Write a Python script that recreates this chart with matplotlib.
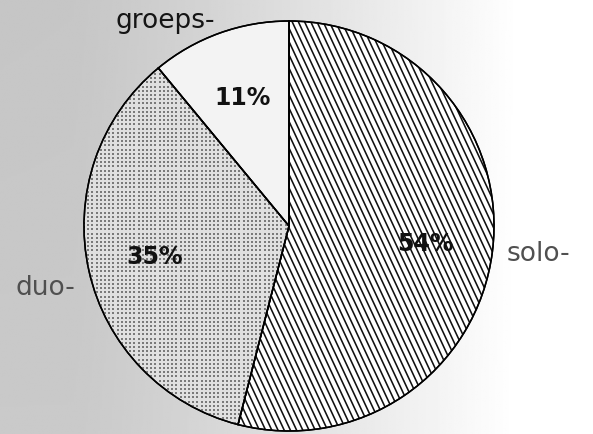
import numpy as np
import matplotlib.pyplot as plt
from matplotlib.patches import Wedge
from matplotlib.collections import LineCollection

# share of performances per ensemble type
labels = ['solo-', 'duo-', 'groeps-']
shares = [54, 35, 11]
label_colors = ['#505050', '#505050', '#151515']

fig = plt.figure(figsize=(5.93, 4.35), dpi=100)
ax = fig.add_axes([0, 0, 1, 1])

# scanned paper look: grey on the left, almost white on the right
gx = np.linspace(0, 1, 300)
gy = np.linspace(0, 1, 200)
GX, GY = np.meshgrid(gx, gy)
paper = 0.79 + 0.21 * np.clip((GX - 0.12) / 0.75, 0, 1) ** 1.2 - 0.015 * GY * (1 - GX)
ax.imshow(paper, extent=[0, 593, 0, 435], cmap='gray', vmin=0, vmax=1,
          aspect='auto', origin='lower', zorder=0)

cx, cy, r = 289, 208, 205
wedges, texts, autotexts = ax.pie(
    shares, labels=labels, center=(cx, cy), radius=r,
    startangle=90, counterclock=False, frame=True,
    colors=['white', '#e0e0e0', '#f3f3f3'],
    autopct=lambda p: '%d%%' % round(p), pctdistance=0.67, labeldistance=1.07,
    wedgeprops=dict(edgecolor='black', linewidth=1.1),
)
for w in wedges:
    w.set_zorder(1)

# steep diagonal hatching in the solo slice
ang = np.deg2rad(65)
x0s = np.arange(cx - 2 * r, cx + 2 * r, 6.2)
y_lo, y_hi = cy - r - 10, cy + r + 10
segs = [[(x0 - (y_hi - cy) / np.tan(ang), y_hi), (x0 + (cy - y_lo) / np.tan(ang), y_lo)]
        for x0 in x0s]
hatch = LineCollection(segs, colors='#111111', linewidths=1.15, zorder=2)
ax.add_collection(hatch)
hatch.set_clip_path(wedges[0])

# stipple dots in the duo slice
dx, dy = np.meshgrid(np.arange(cx - r, cx + 5, 4.2), np.arange(cy - r, cy + r, 4.2))
dots = ax.scatter(dx.ravel(), dy.ravel(), s=0.7, marker='s', color='#7a7a7a',
                  linewidths=0, zorder=2)
dots.set_clip_path(wedges[1])

# redraw outlines on top of the textures
for w in wedges:
    ax.add_patch(Wedge(w.center, w.r, w.theta1, w.theta2, facecolor='none',
                       edgecolor='black', linewidth=1.1, zorder=3))

for t, c, ha, va in zip(texts, label_colors, ['left', 'right', 'right'],
                        ['center', 'top', 'center']):
    t.set_fontsize(19)
    t.set_color(c)
    t.set_family('DejaVu Sans')
    t.set_ha(ha)
    t.set_va(va)
for t in autotexts:
    t.set_fontsize(17)
    t.set_fontweight('bold')
    t.set_family('DejaVu Sans')
    t.set_color('#111111')
    t.set_zorder(4)

ax.set_xlim(0, 593)
ax.set_ylim(0, 435)
ax.set_aspect('equal')
ax.axis('off')

fig.savefig('out.png', dpi=100)
